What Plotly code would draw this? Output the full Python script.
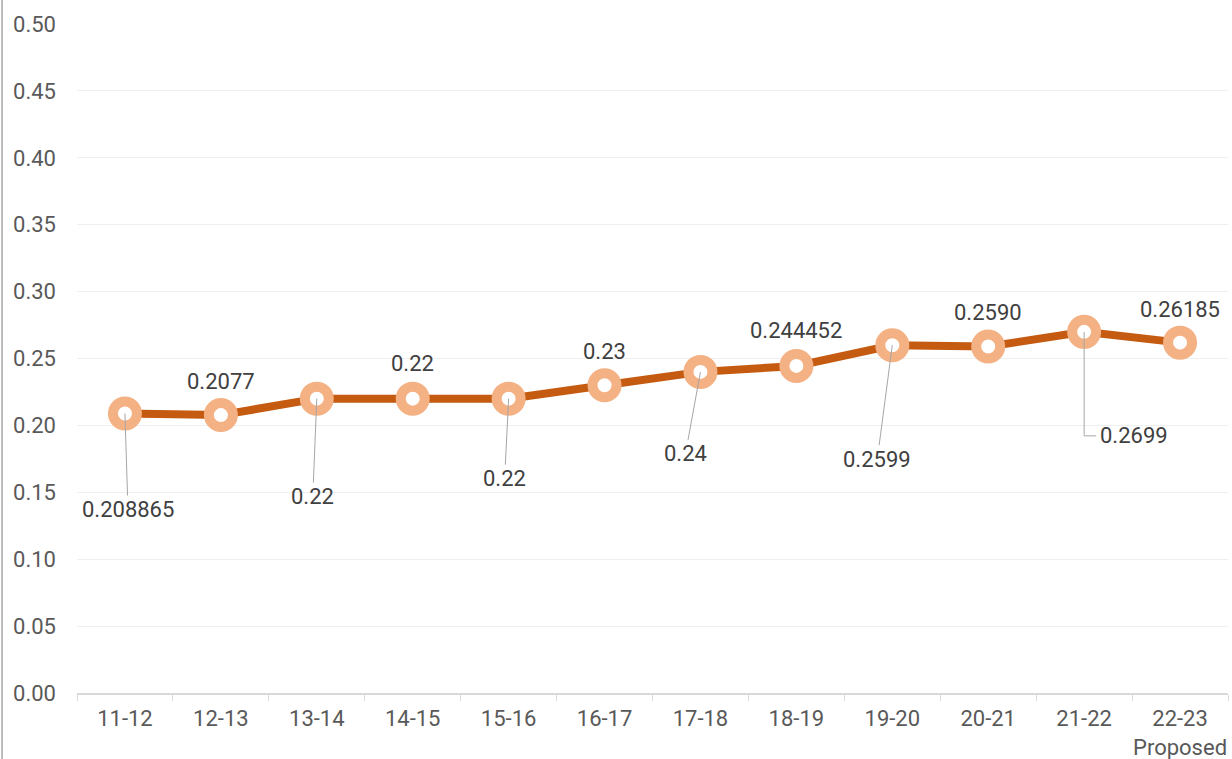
import plotly.graph_objects as go

categories = ["11-12", "12-13", "13-14", "14-15", "15-16", "16-17", "17-18",
              "18-19", "19-20", "20-21", "21-22", "22-23"]
tick_labels = ["11-12", "12-13", "13-14", "14-15", "15-16", "16-17", "17-18",
               "18-19", "19-20", "20-21", "21-22", "22-23<br>Proposed"]
values = [0.208865, 0.2077, 0.22, 0.22, 0.22, 0.23, 0.24, 0.244452, 0.2599, 0.2590, 0.2699, 0.26185]
value_labels = ["0.208865", "0.2077", "0.22", "0.22", "0.22", "0.23", "0.24",
                "0.244452", "0.2599", "0.2590", "0.2699", "0.26185"]
# label placement: (ax, ay, leader) offsets in pixels
label_pos = [(3, 96, True), (0, -34, False), (-4, 98, True), (0, -35, False),
             (-4, 80, True), (0, -34, False), (-15, 82, True), (0, -35, False),
             (-15, 114, True), (0, -34, False), (None, None, "elbow"), (0, -33, False)]

FONT = "Roboto, 'Open Sans', sans-serif"
TXT = "#404040"
FS = 22

fig = go.Figure()
fig.add_trace(go.Scatter(
    x=categories, y=values, mode="lines+markers",
    line=dict(color="#C55A11", width=8),
    marker=dict(symbol="circle", size=24, color="white",
                line=dict(color="#F4B183", width=10)),
    hoverinfo="skip", showlegend=False,
))

annotations = []
shapes = []
for i, (c, v, lab) in enumerate(zip(categories, values, value_labels)):
    ax, ay, lead = label_pos[i]
    if lead is True:
        annotations.append(dict(x=c, y=v, xref="x", yref="y", text=lab,
                                showarrow=True, arrowhead=0, arrowwidth=1,
                                arrowcolor="#A6A6A6", ax=ax, ay=ay, standoff=0,
                                font=dict(family=FONT, size=FS, color=TXT)))
    elif lead == "elbow":
        shapes.append(dict(type="path", xref="x", yref="y",
                           xsizemode="pixel", ysizemode="pixel",
                           xanchor=i, yanchor=v,
                           path="M0,0 L0,-104 L12,-104",
                           line=dict(color="#A6A6A6", width=1)))
        annotations.append(dict(x=c, y=v, xref="x", yref="y", text=lab,
                                showarrow=False, xanchor="left", yanchor="middle",
                                xshift=14, yshift=-104,
                                font=dict(family=FONT, size=FS, color=TXT)))
    else:
        annotations.append(dict(x=c, y=v, xref="x", yref="y", text=lab,
                                showarrow=False, yshift=-ay,
                                font=dict(family=FONT, size=FS, color=TXT)))

# left border line
shapes.append(dict(type="line", xref="paper", yref="paper",
                   x0=-0.0651, x1=-0.0651, y0=-0.2, y1=1.1,
                   line=dict(color="#A6A6A6", width=1.5)))

fig.update_layout(
    width=1232, height=759, autosize=False,
    margin=dict(l=77, r=4, t=24, b=66, autoexpand=False),
    paper_bgcolor="white", plot_bgcolor="white",
    font=dict(family=FONT, size=FS, color=TXT),
    annotations=annotations, shapes=shapes,
    xaxis=dict(type="category", tickvals=categories, ticktext=tick_labels,
               tickson="boundaries", ticks="outside", ticklen=6,
               tickcolor="#D9D9D9", showline=True, linecolor="#D9D9D9",
               linewidth=1.5, showgrid=False, tickfont=dict(size=FS, color="#595959"),
               tickangle=0, automargin=False,
               ticklabelstandoff=5, range=[-0.5, 11.5]),
    yaxis=dict(range=[0, 0.5], dtick=0.05, tickformat=".2f",
               showgrid=True, gridcolor="#EFEFEF", gridwidth=1.2,
               zeroline=False, showline=False, ticks="", automargin=False,
               tickfont=dict(size=FS, color="#595959"), ticklabelstandoff=20),
)
fig.write_html("out.html", config={"displayModeBar": False},
               post_script="document.body.style.margin='0';document.body.style.overflow='hidden';")
